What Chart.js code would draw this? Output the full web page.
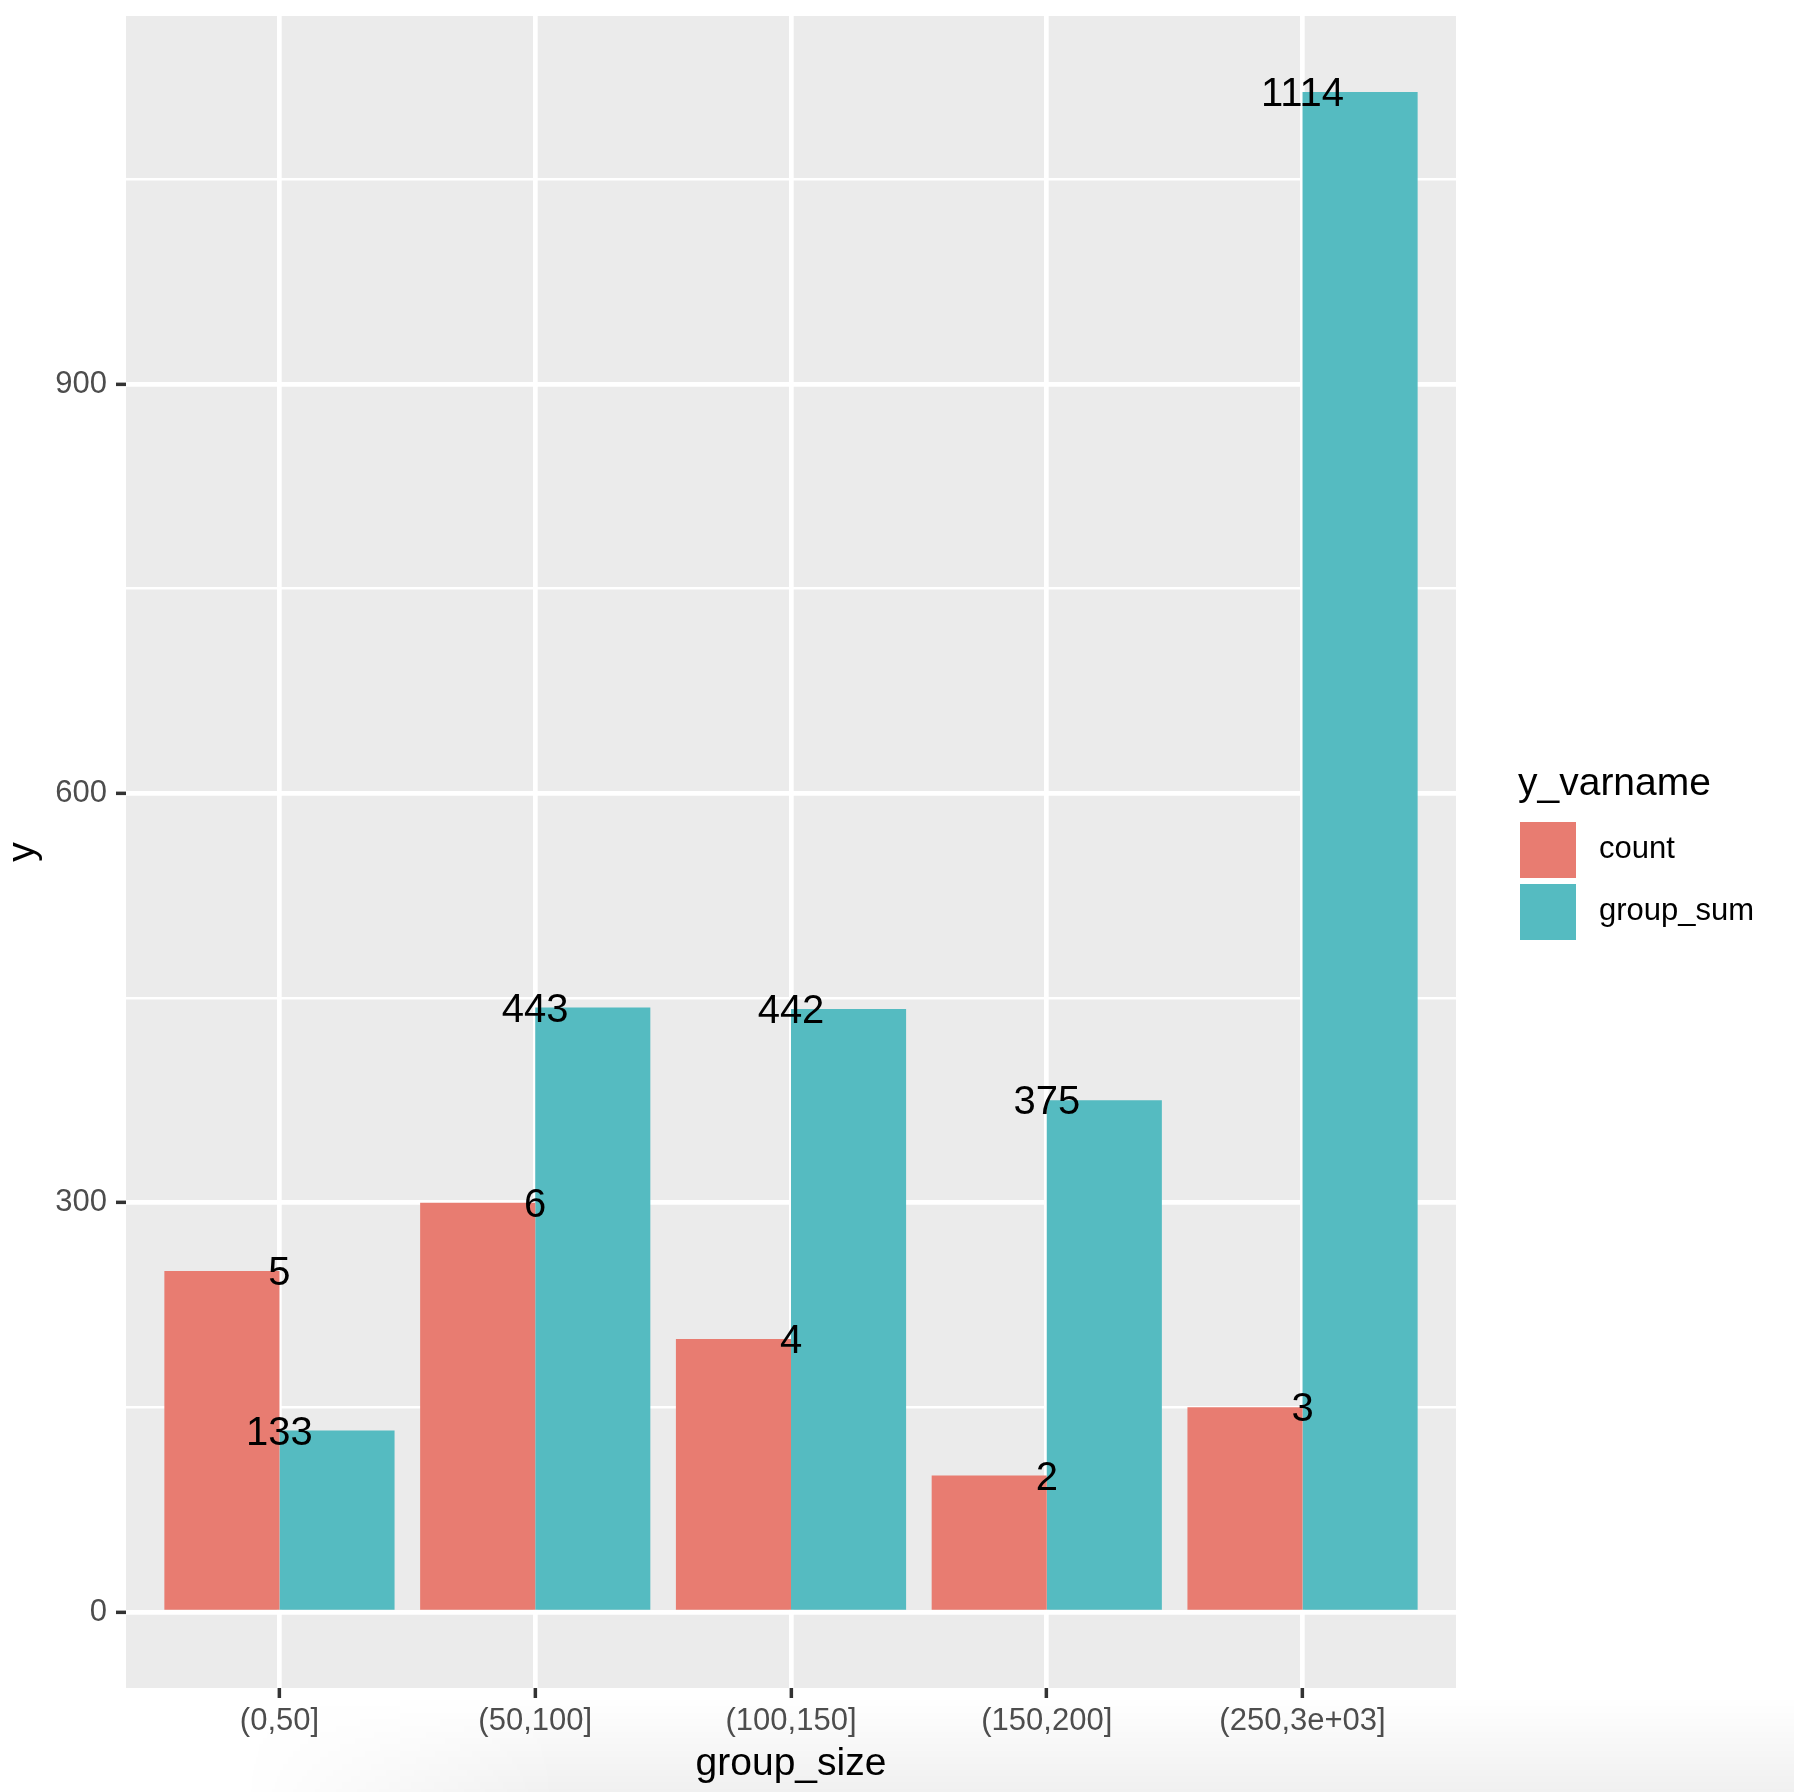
<!DOCTYPE html>
<html>
<head>
<meta charset="utf-8">
<title>group_size</title>
<script src="https://cdn.jsdelivr.net/npm/chart.js@4.4.1/dist/chart.umd.min.js"></script>
<style>
  html, body { margin: 0; padding: 0; background: #fff; }
  #wrap { position: relative; width: 1794px; height: 1792px; overflow: hidden; }
  #sombra {
    position: absolute; left: 240px; right: 0; bottom: 0; height: 95px;
    background: linear-gradient(to bottom, rgba(0,0,0,0), rgba(0,0,0,0.06));
    -webkit-mask-image: linear-gradient(to right, transparent, black 320px);
    mask-image: linear-gradient(to right, transparent, black 320px);
  }
  canvas { position: absolute; left: 0; top: 0; }
</style>
</head>
<body>
<div id="wrap">
  <div id="sombra"></div>
  <canvas id="grafico" width="1794" height="1792"></canvas>
</div>
<script>
const categorias = ['(0,50]', '(50,100]', '(100,150]', '(150,200]', '(250,3e+03]'];
const countLabels = [5, 6, 4, 2, 3];
const countBars = [250, 300, 200, 100, 150]; // count is drawn x50 on the shared y axis
const groupSum = [133, 443, 442, 375, 1114];
const yMajor = [0, 300, 600, 900];
const yMinor = [150, 450, 750, 1050];

const corCount = '#E87C71';
const corSum = '#55BBC1';
const fonte = '"Liberation Sans", Arial, sans-serif';

// ggplot style expansion: 5% on y, 0.6 of a category on x
const topo = Math.max(...groupSum, ...countBars);
const yMin = -topo * 0.05;
const yMax = topo * 1.05;

const fundoPainel = {
    id: 'fundoPainel',
    beforeDraw(chart) {
        const { ctx, chartArea: a } = chart;
        ctx.save();
        ctx.fillStyle = '#EBEBEB';
        ctx.fillRect(a.left, a.top, a.right - a.left, a.bottom - a.top);
        ctx.restore();
    }
};

const rotulos = {
    id: 'rotulos',
    afterDatasetsDraw(chart) {
        const { ctx, scales: { x, y } } = chart;
        ctx.save();
        ctx.font = '40px ' + fonte;
        ctx.fillStyle = '#000';
        ctx.textAlign = 'center';
        ctx.textBaseline = 'alphabetic';
        categorias.forEach((c, i) => {
            const px = x.getPixelForValue(i + 1);
            ctx.fillText(String(countLabels[i]), px, y.getPixelForValue(countBars[i]) + 14);
            ctx.fillText(String(groupSum[i]), px, y.getPixelForValue(groupSum[i]) + 14);
        });
        ctx.restore();
    }
};

const legenda = {
    id: 'legenda',
    afterDraw(chart) {
        const ctx = chart.ctx;
        ctx.save();
        ctx.fillStyle = '#000';
        ctx.textAlign = 'left';
        ctx.textBaseline = 'alphabetic';
        ctx.font = '39px ' + fonte;
        ctx.fillText('y_varname', 1518, 795);
        ctx.font = '31px ' + fonte;
        chart.data.datasets.forEach((ds, i) => {
            const top = 822 + i * 62;
            ctx.fillStyle = ds.backgroundColor;
            ctx.fillRect(1520, top, 56, 56);
            ctx.fillStyle = '#000';
            ctx.fillText(ds.label, 1599, top + 28 + 8);
        });
        ctx.restore();
    }
};

const ehMaior = v => yMajor.includes(v);

new Chart(document.getElementById('grafico').getContext('2d'), {
    type: 'bar',
    data: {
        datasets: [
            {
                label: 'count',
                data: categorias.map((c, i) => ({ x: i + 1, y: countBars[i] })),
                backgroundColor: corCount,
                borderWidth: 0,
                categoryPercentage: 0.9,
                barPercentage: 1.0
            },
            {
                label: 'group_sum',
                data: categorias.map((c, i) => ({ x: i + 1, y: groupSum[i] })),
                backgroundColor: corSum,
                borderWidth: 0,
                categoryPercentage: 0.9,
                barPercentage: 1.0
            }
        ]
    },
    options: {
        responsive: false,
        animation: false,
        devicePixelRatio: 1,
        events: [],
        layout: { autoPadding: false, padding: { top: 16, right: 338, left: 0, bottom: 0 } },
        plugins: {
            legend: { display: false },
            tooltip: { enabled: false }
        },
        scales: {
            x: {
                type: 'linear',
                min: 0.4,
                max: 5.6,
                offset: false,
                afterBuildTicks: s => { s.ticks = categorias.map((c, i) => ({ value: i + 1 })); },
                afterFit: s => { s.height = 104; s.paddingLeft = 0; s.paddingRight = 0; },
                border: { display: false },
                grid: {
                    offset: false,
                    color: '#FFFFFF',
                    lineWidth: 4.7,
                    tickColor: '#333333',
                    tickWidth: 3.5,
                    tickLength: 10
                },
                ticks: {
                    autoSkip: false,
                    maxRotation: 0,
                    minRotation: 0,
                    padding: 5,
                    color: '#4D4D4D',
                    font: { family: fonte, size: 31 },
                    callback: v => categorias[Math.round(v) - 1]
                },
                title: {
                    display: true,
                    text: 'group_size',
                    color: '#000',
                    font: { family: fonte, size: 39 },
                    padding: { top: 0, bottom: 4 }
                }
            },
            y: {
                type: 'linear',
                min: yMin,
                max: yMax,
                afterBuildTicks: s => {
                    s.ticks = [...yMajor, ...yMinor].sort((a, b) => a - b).map(v => ({ value: v }));
                },
                afterFit: s => { s.width = 126; s.paddingTop = 0; s.paddingBottom = 0; },
                border: { display: false },
                grid: {
                    color: '#FFFFFF',
                    lineWidth: c => ehMaior(c.tick.value) ? 4.7 : 2.4,
                    tickColor: c => ehMaior(c.tick.value) ? '#333333' : 'rgba(0,0,0,0)',
                    tickWidth: 3.5,
                    tickLength: 10
                },
                ticks: {
                    autoSkip: false,
                    padding: 9,
                    color: '#4D4D4D',
                    font: { family: fonte, size: 31 },
                    callback: v => ehMaior(v) ? String(v) : ''
                },
                title: {
                    display: true,
                    text: 'y',
                    color: '#000',
                    font: { family: fonte, size: 39 },
                    padding: { top: 0, bottom: 0 }
                }
            }
        }
    },
    plugins: [fundoPainel, rotulos, legenda]
});
</script>
</body>
</html>
